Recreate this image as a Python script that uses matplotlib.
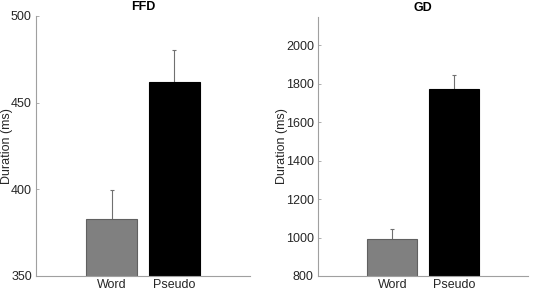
import matplotlib
matplotlib.use("Agg")
import matplotlib.pyplot as plt

plt.rcParams['font.family'] = ['Liberation Sans', 'DejaVu Sans']

categories = ["Word", "Pseudo"]
ffd_means = [383, 462]
ffd_err = [16.5, 18.5]
gd_means = [994, 1775]
gd_err = [48, 70]

fig = plt.figure(figsize=(5.33, 2.92), dpi=100)
W, H = 533, 292

def make_ax(left, right, top, bottom):
    return fig.add_axes([left / W, 1 - bottom / H, (right - left) / W, (bottom - top) / H])

ax1 = make_ax(36, 250, 16, 276)
ax2 = make_ax(318, 528, 16.5, 276)

colors = ["#808080", "#000000"]
edges = ["#606060", "#000000"]

def draw(ax, means, errs, ylim, yticks, title):
    x = [1, 2]
    ax.bar(x, means, width=0.81, color=colors, edgecolor=edges, linewidth=0.8, zorder=2)
    ax.errorbar(x, means, yerr=errs, fmt='none', ecolor='#707070', elinewidth=0.8,
                capsize=1.5, capthick=0.8, zorder=1)
    ax.set_xlim(1.5 - 1.71, 1.5 + 1.71)
    ax.set_ylim(*ylim)
    ax.set_yticks(yticks)
    ax.set_xticks(x)
    ax.set_xticklabels(categories)
    for s in ['top', 'right']:
        ax.spines[s].set_visible(False)
    for s in ['left', 'bottom']:
        ax.spines[s].set_color('#a0a0a0')
        ax.spines[s].set_linewidth(0.8)
    ax.tick_params(axis='y', direction='in', length=2.5, width=0.6, color='#a0a0a0',
                   labelsize=9, labelcolor='#262626', pad=3)
    ax.tick_params(axis='x', length=0, labelsize=9, labelcolor='#262626', pad=2)
    ax.set_ylabel("Duration (ms)", fontsize=9, color='#262626')
    ax.set_title(title, fontsize=9, fontweight='bold', pad=4)

draw(ax1, ffd_means, ffd_err, (350, 500), [350, 400, 450, 500], "FFD")
draw(ax2, gd_means, gd_err, (800, 2150), [800, 1000, 1200, 1400, 1600, 1800, 2000], "GD")
ax1.yaxis.set_label_coords((13 - 36) / 214, 0.5)
ax2.yaxis.set_label_coords((288 - 318) / 210, 0.5)

fig.savefig("out.png", dpi=100)
